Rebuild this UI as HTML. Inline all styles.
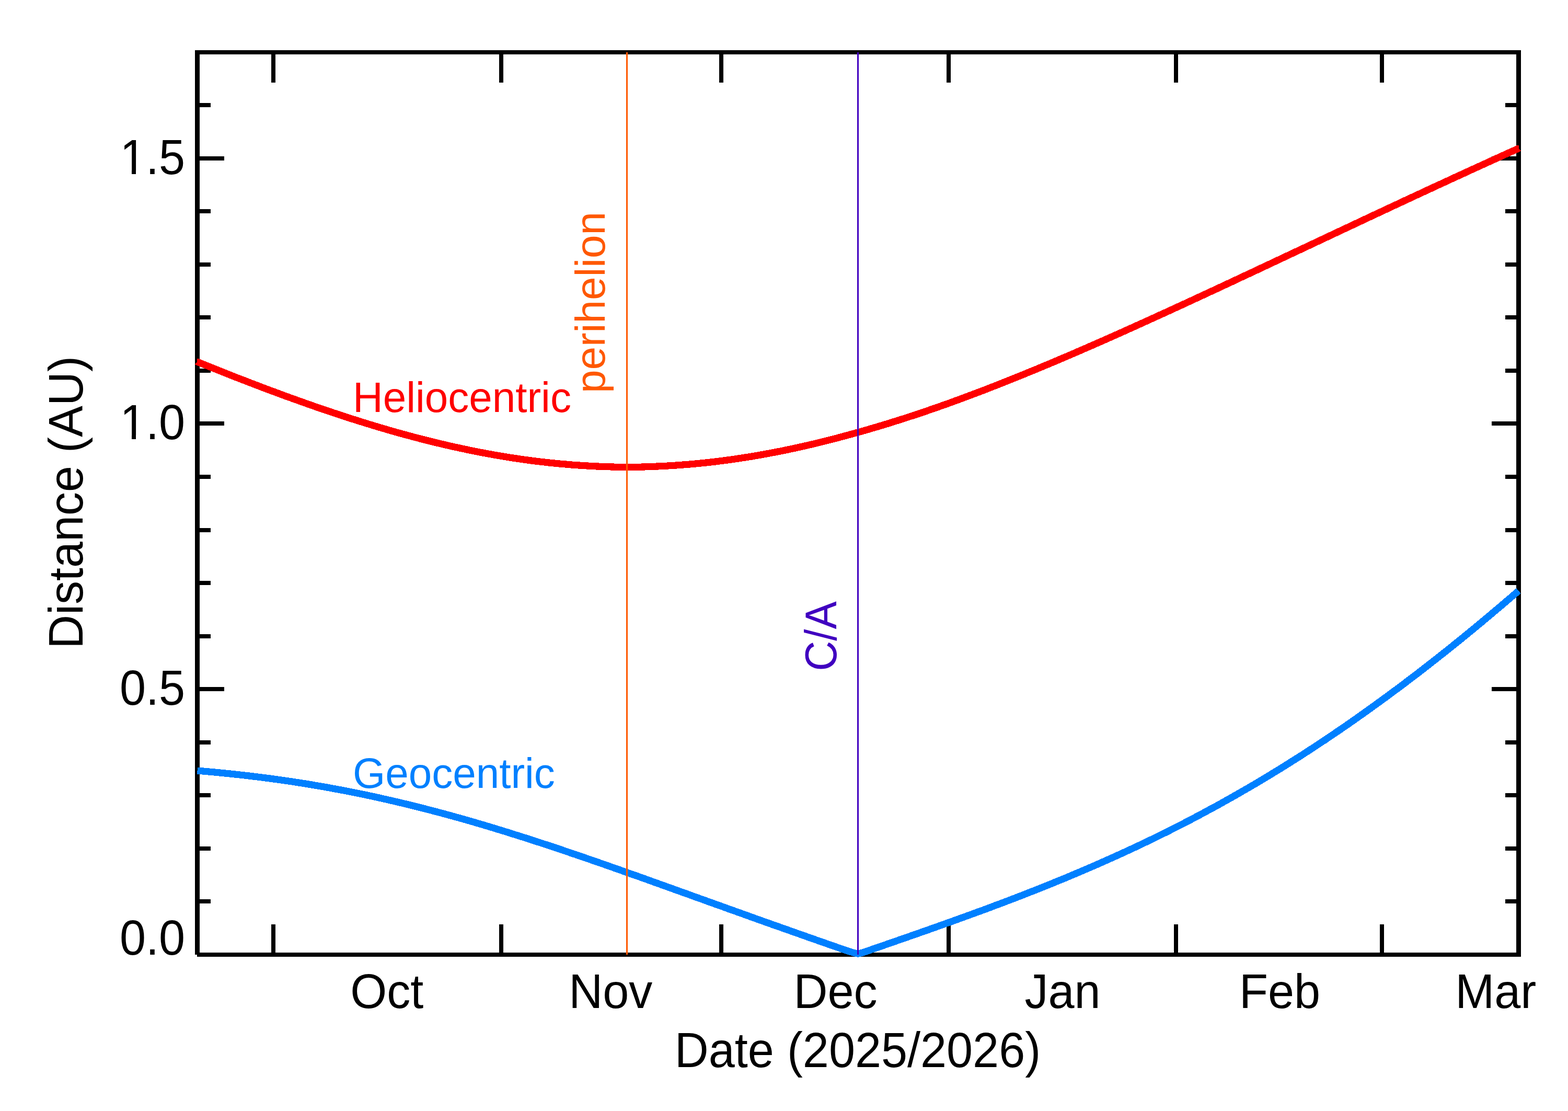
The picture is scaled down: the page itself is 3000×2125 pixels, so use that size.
<!DOCTYPE html>
<html lang="en">
<head>
<meta charset="utf-8">
<title>Heliocentric and Geocentric Distance</title>
<style>
html,body{margin:0;padding:0;background:#fff;}
body{width:3000px;height:2125px;overflow:hidden;}
svg{display:block;}
text{font-family:"Liberation Sans",sans-serif;}
</style>
</head>
<body>
<svg width="3000" height="2125" viewBox="0 0 3000 2125">
<rect x="0" y="0" width="3000" height="2125" fill="#ffffff"/>
<g fill="#000" shape-rendering="crispEdges">
<rect x="373" y="96" width="2537" height="8"/>
<rect x="377" y="1822" width="2533" height="8"/>
<rect x="373" y="96" width="9" height="1730"/>
<rect x="2901" y="96" width="9" height="1734"/>
<rect x="519" y="96" width="8" height="62"/>
<rect x="519" y="1768" width="8" height="62"/>
<rect x="955" y="96" width="8" height="62"/>
<rect x="955" y="1768" width="8" height="62"/>
<rect x="1376" y="96" width="8" height="62"/>
<rect x="1376" y="1768" width="8" height="62"/>
<rect x="1811" y="96" width="8" height="62"/>
<rect x="1811" y="1768" width="8" height="62"/>
<rect x="2246" y="96" width="8" height="62"/>
<rect x="2246" y="1768" width="8" height="62"/>
<rect x="2640" y="96" width="8" height="62"/>
<rect x="2640" y="1768" width="8" height="62"/>
<rect x="373" y="1720" width="30" height="8"/>
<rect x="2880" y="1720" width="30" height="8"/>
<rect x="373" y="1619" width="30" height="8"/>
<rect x="2880" y="1619" width="30" height="8"/>
<rect x="373" y="1517" width="30" height="8"/>
<rect x="2880" y="1517" width="30" height="8"/>
<rect x="373" y="1416" width="30" height="8"/>
<rect x="2880" y="1416" width="30" height="8"/>
<rect x="373" y="1314" width="56" height="8"/>
<rect x="2854" y="1314" width="56" height="8"/>
<rect x="373" y="1213" width="30" height="8"/>
<rect x="2880" y="1213" width="30" height="8"/>
<rect x="373" y="1111" width="30" height="8"/>
<rect x="2880" y="1111" width="30" height="8"/>
<rect x="373" y="1010" width="30" height="8"/>
<rect x="2880" y="1010" width="30" height="8"/>
<rect x="373" y="908" width="30" height="8"/>
<rect x="2880" y="908" width="30" height="8"/>
<rect x="373" y="806" width="56" height="8"/>
<rect x="2854" y="806" width="56" height="8"/>
<rect x="373" y="705" width="30" height="8"/>
<rect x="2880" y="705" width="30" height="8"/>
<rect x="373" y="603" width="30" height="8"/>
<rect x="2880" y="603" width="30" height="8"/>
<rect x="373" y="502" width="30" height="8"/>
<rect x="2880" y="502" width="30" height="8"/>
<rect x="373" y="400" width="30" height="8"/>
<rect x="2880" y="400" width="30" height="8"/>
<rect x="373" y="299" width="56" height="8"/>
<rect x="2854" y="299" width="56" height="8"/>
<rect x="373" y="197" width="30" height="8"/>
<rect x="2880" y="197" width="30" height="8"/>
</g>
<g>
<text transform="translate(354,1826) scale(1,1.05)" font-size="90" text-anchor="end">0.0</text>
<text transform="translate(354,1348) scale(1,1.05)" font-size="90" text-anchor="end">0.5</text>
<text transform="translate(354,840) scale(1,1.05)" font-size="90" x="-124.6 -75.1 -50.05">1.0</text>
<text transform="translate(354,333) scale(1,1.05)" font-size="90" x="-124.6 -75.1 -50.05">1.5</text>
<text transform="translate(740.2,1928) scale(1,1.04)" font-size="90" text-anchor="middle">Oct</text>
<text transform="translate(1168.2,1928) scale(1,1.04)" font-size="90" text-anchor="middle">Nov</text>
<text transform="translate(1598.6,1928) scale(1,1.04)" font-size="90" text-anchor="middle">Dec</text>
<text transform="translate(2033,1928) scale(1,1.04)" font-size="90" text-anchor="middle">Jan</text>
<text transform="translate(2448.5,1928) scale(1,1.04)" font-size="90" text-anchor="middle">Feb</text>
<text transform="translate(2861.7,1928) scale(1,1.04)" font-size="90" text-anchor="middle">Mar</text>
<text transform="translate(1641,2041) scale(1,1.045)" font-size="90" text-anchor="middle">Date (2025/2026)</text>
<text transform="translate(158,961) rotate(-90) scale(1,1.035)" font-size="90" text-anchor="middle">Distance (AU)</text>
</g>
<g fill="#ffffff" shape-rendering="crispEdges">
<rect x="232" y="832" width="20" height="10"/>
<rect x="260" y="832" width="18" height="10"/>
<rect x="232" y="326" width="20" height="10"/>
<rect x="260" y="326" width="18" height="10"/>
</g>
<g fill="none" stroke-width="13.2" stroke-linejoin="miter" stroke-linecap="butt" shape-rendering="crispEdges">
<path stroke="#ff0000" d="M377.5,692.1 L384.5,694.9 L391.5,697.8 L398.6,700.6 L405.6,703.4 L412.6,706.2 L419.6,709.0 L426.7,711.8 L433.7,714.6 L440.7,717.4 L447.7,720.1 L454.7,722.9 L461.8,725.6 L468.8,728.3 L475.8,731.0 L482.8,733.7 L489.9,736.4 L496.9,739.1 L503.9,741.8 L510.9,744.4 L517.9,747.0 L525.0,749.6 L532.0,752.2 L539.0,754.8 L546.0,757.4 L553.1,760.0 L560.1,762.5 L567.1,765.0 L574.1,767.5 L581.1,770.0 L588.2,772.5 L595.2,775.0 L602.2,777.4 L609.2,779.9 L616.3,782.3 L623.3,784.7 L630.3,787.0 L637.3,789.4 L644.3,791.7 L651.4,794.0 L658.4,796.3 L665.4,798.6 L672.4,800.9 L679.5,803.1 L686.5,805.3 L693.5,807.5 L700.5,809.7 L707.5,811.8 L714.6,814.0 L721.6,816.1 L728.6,818.2 L735.6,820.2 L742.7,822.3 L749.7,824.3 L756.7,826.3 L763.7,828.3 L770.7,830.2 L777.8,832.1 L784.8,834.0 L791.8,835.9 L798.8,837.7 L805.9,839.6 L812.9,841.4 L819.9,843.1 L826.9,844.9 L833.9,846.6 L841.0,848.3 L848.0,849.9 L855.0,851.6 L862.0,853.2 L869.1,854.8 L876.1,856.3 L883.1,857.8 L890.1,859.3 L897.1,860.8 L904.2,862.2 L911.2,863.6 L918.2,865.0 L925.2,866.3 L932.3,867.7 L939.3,868.9 L946.3,870.2 L953.3,871.4 L960.3,872.6 L967.4,873.8 L974.4,874.9 L981.4,876.0 L988.4,877.0 L995.5,878.1 L1002.5,879.1 L1009.5,880.0 L1016.5,881.0 L1023.5,881.9 L1030.6,882.7 L1037.6,883.5 L1044.6,884.3 L1051.6,885.1 L1058.7,885.8 L1065.7,886.5 L1072.7,887.2 L1079.7,887.8 L1086.7,888.4 L1093.8,889.0 L1100.8,889.5 L1107.8,890.0 L1114.8,890.5 L1121.9,890.9 L1128.9,891.3 L1135.9,891.7 L1142.9,892.0 L1149.9,892.3 L1157.0,892.6 L1164.0,892.8 L1171.0,893.0 L1178.0,893.2 L1185.1,893.3 L1192.1,893.4 L1199.1,893.4 L1206.1,893.4 L1213.1,893.3 L1220.2,893.2 L1227.2,893.1 L1234.2,892.9 L1241.2,892.7 L1248.3,892.4 L1255.3,892.1 L1262.3,891.8 L1269.3,891.5 L1276.3,891.1 L1283.4,890.6 L1290.4,890.2 L1297.4,889.7 L1304.4,889.2 L1311.5,888.6 L1318.5,888.1 L1325.5,887.4 L1332.5,886.8 L1339.5,886.1 L1346.6,885.4 L1353.6,884.7 L1360.6,883.9 L1367.6,883.1 L1374.7,882.2 L1381.7,881.3 L1388.7,880.4 L1395.7,879.4 L1402.7,878.5 L1409.8,877.4 L1416.8,876.4 L1423.8,875.3 L1430.8,874.2 L1437.9,873.1 L1444.9,871.9 L1451.9,870.7 L1458.9,869.4 L1465.9,868.1 L1473.0,866.8 L1480.0,865.5 L1487.0,864.1 L1494.0,862.8 L1501.1,861.3 L1508.1,859.9 L1515.1,858.4 L1522.1,856.9 L1529.1,855.3 L1536.2,853.8 L1543.2,852.2 L1550.2,850.5 L1557.2,848.9 L1564.3,847.2 L1571.3,845.5 L1578.3,843.7 L1585.3,842.0 L1592.3,840.2 L1599.4,838.4 L1606.4,836.5 L1613.4,834.6 L1620.4,832.8 L1627.5,830.8 L1634.5,828.9 L1641.5,826.9 L1648.5,825.0 L1655.5,823.0 L1662.6,820.9 L1669.6,818.9 L1676.6,816.8 L1683.6,814.7 L1690.7,812.6 L1697.7,810.5 L1704.7,808.3 L1711.7,806.1 L1718.7,803.9 L1725.8,801.7 L1732.8,799.4 L1739.8,797.1 L1746.8,794.8 L1753.9,792.5 L1760.9,790.1 L1767.9,787.8 L1774.9,785.4 L1781.9,782.9 L1789.0,780.5 L1796.0,778.1 L1803.0,775.6 L1810.0,773.1 L1817.1,770.6 L1824.1,768.0 L1831.1,765.5 L1838.1,762.9 L1845.1,760.3 L1852.2,757.7 L1859.2,755.0 L1866.2,752.4 L1873.2,749.7 L1880.3,747.1 L1887.3,744.4 L1894.3,741.6 L1901.3,738.9 L1908.3,736.2 L1915.4,733.4 L1922.4,730.6 L1929.4,727.8 L1936.4,725.0 L1943.5,722.2 L1950.5,719.4 L1957.5,716.5 L1964.5,713.6 L1971.5,710.8 L1978.6,707.9 L1985.6,705.0 L1992.6,702.0 L1999.6,699.1 L2006.7,696.2 L2013.7,693.2 L2020.7,690.3 L2027.7,687.3 L2034.7,684.3 L2041.8,681.3 L2048.8,678.3 L2055.8,675.3 L2062.8,672.2 L2069.9,669.2 L2076.9,666.1 L2083.9,663.1 L2090.9,660.0 L2097.9,656.9 L2105.0,653.9 L2112.0,650.8 L2119.0,647.7 L2126.0,644.5 L2133.1,641.4 L2140.1,638.3 L2147.1,635.2 L2154.1,632.0 L2161.1,628.9 L2168.2,625.7 L2175.2,622.5 L2182.2,619.4 L2189.2,616.2 L2196.3,613.0 L2203.3,609.8 L2210.3,606.6 L2217.3,603.4 L2224.3,600.2 L2231.4,597.0 L2238.4,593.8 L2245.4,590.6 L2252.4,587.3 L2259.5,584.1 L2266.5,580.9 L2273.5,577.6 L2280.5,574.4 L2287.5,571.1 L2294.6,567.9 L2301.6,564.6 L2308.6,561.4 L2315.6,558.1 L2322.7,554.9 L2329.7,551.6 L2336.7,548.3 L2343.7,545.0 L2350.7,541.8 L2357.8,538.5 L2364.8,535.2 L2371.8,531.9 L2378.8,528.6 L2385.9,525.3 L2392.9,522.1 L2399.9,518.8 L2406.9,515.5 L2413.9,512.2 L2421.0,508.9 L2428.0,505.6 L2435.0,502.3 L2442.0,499.0 L2449.1,495.7 L2456.1,492.4 L2463.1,489.1 L2470.1,485.8 L2477.1,482.5 L2484.2,479.2 L2491.2,475.9 L2498.2,472.6 L2505.2,469.3 L2512.3,466.0 L2519.3,462.7 L2526.3,459.4 L2533.3,456.1 L2540.3,452.8 L2547.4,449.5 L2554.4,446.2 L2561.4,442.9 L2568.4,439.6 L2575.5,436.3 L2582.5,433.0 L2589.5,429.7 L2596.5,426.4 L2603.5,423.1 L2610.6,419.8 L2617.6,416.5 L2624.6,413.2 L2631.6,409.9 L2638.7,406.7 L2645.7,403.4 L2652.7,400.1 L2659.7,396.8 L2666.7,393.5 L2673.8,390.3 L2680.8,387.0 L2687.8,383.7 L2694.8,380.4 L2701.9,377.2 L2708.9,373.9 L2715.9,370.7 L2722.9,367.4 L2729.9,364.1 L2737.0,360.9 L2744.0,357.6 L2751.0,354.4 L2758.0,351.2 L2765.1,347.9 L2772.1,344.7 L2779.1,341.4 L2786.1,338.2 L2793.1,335.0 L2800.2,331.8 L2807.2,328.5 L2814.2,325.3 L2821.2,322.1 L2828.3,318.9 L2835.3,315.7 L2842.3,312.5 L2849.3,309.3 L2856.3,306.1 L2863.4,302.9 L2870.4,299.7 L2877.4,296.5 L2884.4,293.3 L2891.5,290.1 L2898.5,287.0 L2905.5,283.8"/>
<path stroke="#0080ff" d="M377.5,1474.1 L384.5,1474.7 L391.5,1475.3 L398.6,1475.9 L405.6,1476.6 L412.6,1477.2 L419.6,1477.9 L426.7,1478.6 L433.7,1479.3 L440.7,1480.0 L447.7,1480.8 L454.7,1481.5 L461.8,1482.3 L468.8,1483.1 L475.8,1483.9 L482.8,1484.8 L489.9,1485.6 L496.9,1486.5 L503.9,1487.4 L510.9,1488.3 L517.9,1489.2 L525.0,1490.2 L532.0,1491.1 L539.0,1492.1 L546.0,1493.1 L553.1,1494.2 L560.1,1495.2 L567.1,1496.3 L574.1,1497.4 L581.1,1498.5 L588.2,1499.6 L595.2,1500.8 L602.2,1502.0 L609.2,1503.2 L616.3,1504.4 L623.3,1505.6 L630.3,1506.9 L637.3,1508.2 L644.3,1509.5 L651.4,1510.8 L658.4,1512.1 L665.4,1513.5 L672.4,1514.9 L679.5,1516.3 L686.5,1517.7 L693.5,1519.1 L700.5,1520.6 L707.5,1522.1 L714.6,1523.6 L721.6,1525.1 L728.6,1526.7 L735.6,1528.3 L742.7,1529.9 L749.7,1531.5 L756.7,1533.1 L763.7,1534.8 L770.7,1536.4 L777.8,1538.1 L784.8,1539.8 L791.8,1541.6 L798.8,1543.3 L805.9,1545.1 L812.9,1546.9 L819.9,1548.7 L826.9,1550.5 L833.9,1552.4 L841.0,1554.2 L848.0,1556.1 L855.0,1558.0 L862.0,1559.9 L869.1,1561.9 L876.1,1563.8 L883.1,1565.8 L890.1,1567.8 L897.1,1569.8 L904.2,1571.8 L911.2,1573.9 L918.2,1575.9 L925.2,1578.0 L932.3,1580.1 L939.3,1582.2 L946.3,1584.3 L953.3,1586.5 L960.3,1588.6 L967.4,1590.8 L974.4,1593.0 L981.4,1595.2 L988.4,1597.4 L995.5,1599.6 L1002.5,1601.8 L1009.5,1604.1 L1016.5,1606.3 L1023.5,1608.6 L1030.6,1610.9 L1037.6,1613.2 L1044.6,1615.5 L1051.6,1617.8 L1058.7,1620.2 L1065.7,1622.5 L1072.7,1624.8 L1079.7,1627.2 L1086.7,1629.6 L1093.8,1632.0 L1100.8,1634.3 L1107.8,1636.7 L1114.8,1639.1 L1121.9,1641.6 L1128.9,1644.0 L1135.9,1646.4 L1142.9,1648.9 L1149.9,1651.3 L1157.0,1653.7 L1164.0,1656.2 L1171.0,1658.7 L1178.0,1661.1 L1185.1,1663.6 L1192.1,1666.1 L1199.1,1668.6 L1206.1,1671.1 L1213.1,1673.5 L1220.2,1676.0 L1227.2,1678.5 L1234.2,1681.0 L1241.2,1683.5 L1248.3,1686.1 L1255.3,1688.6 L1262.3,1691.1 L1269.3,1693.6 L1276.3,1696.1 L1283.4,1698.6 L1290.4,1701.2 L1297.4,1703.7 L1304.4,1706.2 L1311.5,1708.7 L1318.5,1711.2 L1325.5,1713.8 L1332.5,1716.3 L1339.5,1718.8 L1346.6,1721.3 L1353.6,1723.9 L1360.6,1726.4 L1367.6,1728.9 L1374.7,1731.4 L1381.7,1733.9 L1388.7,1736.5 L1395.7,1739.0 L1402.7,1741.5 L1409.8,1744.0 L1416.8,1746.5 L1423.8,1749.0 L1430.8,1751.5 L1437.9,1754.1 L1444.9,1756.6 L1451.9,1759.1 L1458.9,1761.6 L1465.9,1764.1 L1473.0,1766.6 L1480.0,1769.1 L1487.0,1771.5 L1494.0,1774.0 L1501.1,1776.5 L1508.1,1779.0 L1515.1,1781.5 L1522.1,1784.0 L1529.1,1786.4 L1536.2,1788.9 L1543.2,1791.4 L1550.2,1793.9 L1557.2,1796.3 L1564.3,1798.8 L1571.3,1801.3 L1578.3,1803.7 L1585.3,1806.2 L1592.3,1808.6 L1599.4,1811.1 L1606.4,1813.5 L1613.4,1815.9 L1620.4,1818.3 L1627.5,1820.6 L1634.5,1822.7 L1641.5,1824.0 L1648.5,1822.6 L1655.5,1820.4 L1662.6,1817.9 L1669.6,1815.4 L1676.6,1813.0 L1683.6,1810.6 L1690.7,1808.2 L1697.7,1805.7 L1704.7,1803.3 L1711.7,1800.9 L1718.7,1798.4 L1725.8,1796.0 L1732.8,1793.5 L1739.8,1791.1 L1746.8,1788.6 L1753.9,1786.2 L1760.9,1783.7 L1767.9,1781.2 L1774.9,1778.8 L1781.9,1776.3 L1789.0,1773.8 L1796.0,1771.3 L1803.0,1768.8 L1810.0,1766.3 L1817.1,1763.8 L1824.1,1761.3 L1831.1,1758.8 L1838.1,1756.2 L1845.1,1753.7 L1852.2,1751.1 L1859.2,1748.6 L1866.2,1746.0 L1873.2,1743.4 L1880.3,1740.9 L1887.3,1738.3 L1894.3,1735.7 L1901.3,1733.0 L1908.3,1730.4 L1915.4,1727.8 L1922.4,1725.1 L1929.4,1722.5 L1936.4,1719.8 L1943.5,1717.1 L1950.5,1714.4 L1957.5,1711.7 L1964.5,1708.9 L1971.5,1706.2 L1978.6,1703.4 L1985.6,1700.7 L1992.6,1697.9 L1999.6,1695.1 L2006.7,1692.2 L2013.7,1689.4 L2020.7,1686.5 L2027.7,1683.7 L2034.7,1680.8 L2041.8,1677.9 L2048.8,1674.9 L2055.8,1672.0 L2062.8,1669.0 L2069.9,1666.0 L2076.9,1663.0 L2083.9,1660.0 L2090.9,1657.0 L2097.9,1653.9 L2105.0,1650.8 L2112.0,1647.7 L2119.0,1644.6 L2126.0,1641.5 L2133.1,1638.3 L2140.1,1635.1 L2147.1,1631.9 L2154.1,1628.7 L2161.1,1625.5 L2168.2,1622.2 L2175.2,1618.9 L2182.2,1615.6 L2189.2,1612.2 L2196.3,1608.9 L2203.3,1605.5 L2210.3,1602.1 L2217.3,1598.6 L2224.3,1595.2 L2231.4,1591.7 L2238.4,1588.2 L2245.4,1584.6 L2252.4,1581.1 L2259.5,1577.5 L2266.5,1573.9 L2273.5,1570.2 L2280.5,1566.6 L2287.5,1562.9 L2294.6,1559.2 L2301.6,1555.4 L2308.6,1551.6 L2315.6,1547.8 L2322.7,1544.0 L2329.7,1540.2 L2336.7,1536.3 L2343.7,1532.4 L2350.7,1528.5 L2357.8,1524.5 L2364.8,1520.5 L2371.8,1516.5 L2378.8,1512.4 L2385.9,1508.4 L2392.9,1504.3 L2399.9,1500.2 L2406.9,1496.0 L2413.9,1491.8 L2421.0,1487.6 L2428.0,1483.4 L2435.0,1479.1 L2442.0,1474.8 L2449.1,1470.5 L2456.1,1466.1 L2463.1,1461.8 L2470.1,1457.3 L2477.1,1452.9 L2484.2,1448.5 L2491.2,1444.0 L2498.2,1439.4 L2505.2,1434.9 L2512.3,1430.3 L2519.3,1425.7 L2526.3,1421.0 L2533.3,1416.4 L2540.3,1411.7 L2547.4,1406.9 L2554.4,1402.2 L2561.4,1397.4 L2568.4,1392.6 L2575.5,1387.8 L2582.5,1382.9 L2589.5,1378.0 L2596.5,1373.1 L2603.5,1368.1 L2610.6,1363.1 L2617.6,1358.1 L2624.6,1353.1 L2631.6,1348.0 L2638.7,1342.9 L2645.7,1337.8 L2652.7,1332.7 L2659.7,1327.5 L2666.7,1322.3 L2673.8,1317.1 L2680.8,1311.8 L2687.8,1306.6 L2694.8,1301.2 L2701.9,1295.9 L2708.9,1290.6 L2715.9,1285.2 L2722.9,1279.8 L2729.9,1274.3 L2737.0,1268.8 L2744.0,1263.3 L2751.0,1257.8 L2758.0,1252.3 L2765.1,1246.7 L2772.1,1241.1 L2779.1,1235.5 L2786.1,1229.8 L2793.1,1224.2 L2800.2,1218.5 L2807.2,1212.7 L2814.2,1207.0 L2821.2,1201.2 L2828.3,1195.4 L2835.3,1189.6 L2842.3,1183.7 L2849.3,1177.8 L2856.3,1171.9 L2863.4,1166.0 L2870.4,1160.1 L2877.4,1154.1 L2884.4,1148.1 L2891.5,1142.1 L2898.5,1136.0 L2905.5,1130.0"/>
</g>
<g fill="#ff0000" shape-rendering="crispEdges">
<polygon points="380.2,686 377.1,686 377.1,692.7 373.1,696.4 375.2,699.1"/>
<polygon points="2902.5,278 2906,278 2906,284.4 2909.9,288.3 2908.2,289.3"/>
</g>
<g>
<text transform="translate(675,788) scale(1,1.02)" font-size="80" fill="#ff0000">Heliocentric</text>
<text transform="translate(675,1507) scale(1,1.02)" font-size="80" fill="#0080ff">Geocentric</text>
<text transform="translate(1157,752) rotate(-90)" font-size="80" fill="#ff5800">perihelion</text>
<text transform="translate(1599.5,1283.5) rotate(-90) scale(1,1.06)" font-size="80" fill="#4000c0">C/A</text>
</g>
<g shape-rendering="crispEdges">
<rect x="1198" y="100" width="3" height="1726" fill="#ff5800"/>
<rect x="1640" y="100" width="3" height="1726" fill="#4000c0"/>
</g>
</svg>
</body>
</html>
